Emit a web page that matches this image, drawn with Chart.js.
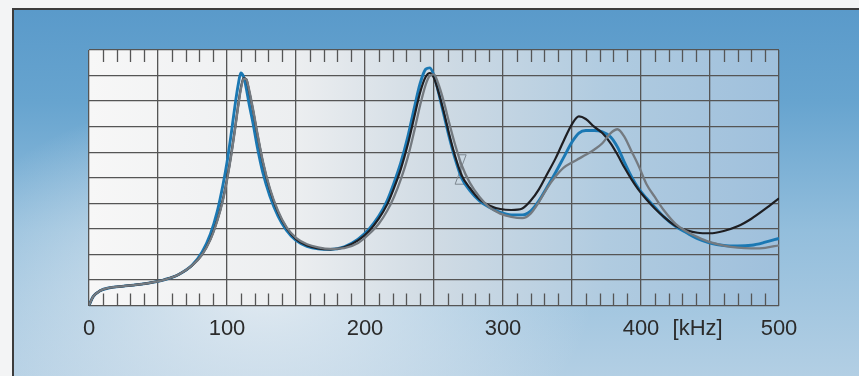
<!DOCTYPE html>
<html>
<head>
<meta charset="utf-8">
<script src="https://cdn.jsdelivr.net/npm/chart.js@4.4.1/dist/chart.umd.min.js"></script>
<style>
  html, body { margin: 0; padding: 0; }
  body { width: 859px; height: 376px; position: relative; overflow: hidden; background: #f3f4f5; }
  #panel {
    position: absolute; left: 12px; top: 8px; width: 847px; height: 368px;
    border-left: 2px solid #3c3c3c; border-top: 2px solid #3c3c3c;
    background:
      radial-gradient(ellipse 330px 200px at 250px 280px, rgba(236,240,244,0.85), rgba(236,240,244,0)),
      linear-gradient(to bottom, #5a9aca 0%, #67a4cf 25%, #93bedc 60%, #b3cfe4 100%);
  }
  #wrap { position: absolute; left: 0; top: 0; width: 859px; height: 376px; }
</style>
</head>
<body>
<div id="panel"></div>
<div id="wrap"><canvas id="chart" width="859" height="376"></canvas></div>
<script>
// frequency in kHz, shared by all three traces
const freq = [0,3,8,15,25,35,45,55,65,75,
  82,88,93,97,100,103,106,108,110,112,
  114,116,119,122,126,131,137,143,150,158,
  166,175,185,195,203,210,216,221,226,231,
  236,240,244,247,250,253,257,261,265,270,
  276,283,290,298,306,314,320,326,332,338,
  344,350,355,360,366,372,378,383,388,393,
  398,404,410,417,425,433,441,450,460,470,
  480,490,500];

const blueTrace = [0,0.35,0.58,0.7,0.76,0.82,0.9,1.02,1.22,1.6,
  2.1,2.8,3.7,4.7,5.6,6.7,7.9,8.6,9.1,8.95,
  8.5,7.9,7.1,6.2,5.2,4.3,3.5,2.95,2.55,2.32,
  2.22,2.2,2.3,2.6,3.0,3.5,4.1,4.8,5.6,6.6,
  7.8,8.7,9.25,9.3,9.0,8.4,7.5,6.6,5.8,5.0,
  4.5,4.1,3.85,3.65,3.55,3.55,3.7,4.1,4.64,5.2,
  5.8,6.4,6.75,6.85,6.85,6.8,6.6,6.2,5.6,5.05,
  4.6,4.2,3.85,3.45,3.1,2.85,2.62,2.45,2.35,2.33,
  2.36,2.48,2.63];

const blackTrace = [0,0.35,0.58,0.7,0.76,0.82,0.9,1.02,1.22,1.58,
  2.0,2.6,3.35,4.15,4.95,5.9,7.0,7.8,8.5,8.9,
  8.85,8.4,7.6,6.7,5.6,4.55,3.65,3.05,2.6,2.35,
  2.24,2.2,2.28,2.55,2.92,3.4,3.95,4.6,5.35,6.3,
  7.45,8.35,8.95,9.1,8.9,8.4,7.6,6.7,5.9,5.1,
  4.6,4.15,3.92,3.78,3.74,3.8,4.1,4.55,5.15,5.75,
  6.45,7.1,7.4,7.3,7.0,6.75,6.35,5.9,5.4,4.95,
  4.55,4.15,3.8,3.45,3.12,2.95,2.85,2.83,2.92,3.1,
  3.4,3.78,4.2];

const grayTrace = [0,0.35,0.58,0.7,0.76,0.82,0.9,1.02,1.22,1.58,
  2.0,2.58,3.32,4.1,4.9,5.85,6.95,7.75,8.45,8.88,
  8.85,8.45,7.65,6.75,5.65,4.6,3.7,3.08,2.65,2.4,
  2.28,2.22,2.25,2.45,2.8,3.2,3.7,4.25,4.95,5.8,
  6.9,7.85,8.65,9.0,9.05,8.7,8.0,7.15,6.35,5.5,
  4.8,4.25,3.85,3.6,3.47,3.42,3.6,4.05,4.6,5.05,
  5.4,5.6,5.75,5.9,6.1,6.35,6.75,6.9,6.6,6.05,
  5.5,4.75,4.25,3.7,3.2,2.9,2.68,2.48,2.35,2.27,
  2.24,2.26,2.36];

const xLabels = [0, 100, 200, 300, 400, 500];
const unitLabel = '[kHz]';
const unitAt = 441;
// small hourglass cursor near 270 kHz (kHz, level)
const markerX = [267.5, 273.3, 265.3, 271.7];
const markerY = [5.9, 5.9, 4.75, 4.75];

const pts = arr => freq.map((f, i) => ({ x: f, y: arr[i] }));
const labelFont = '"Liberation Sans", Arial, sans-serif';

const plotBg = {
  id: 'plotBg',
  beforeDraw(chart) {
    const { ctx, chartArea: a } = chart;
    const g = ctx.createLinearGradient(a.left, 0, a.right, 0);
    g.addColorStop(0, '#f7f7f7');
    g.addColorStop(0.3, '#eceef0');
    g.addColorStop(0.5, '#d0dbe4');
    g.addColorStop(0.75, '#b0cbe0');
    g.addColorStop(1, '#9fc0dc');
    ctx.save();
    ctx.fillStyle = g;
    ctx.fillRect(a.left, a.top, a.right - a.left, a.bottom - a.top);
    ctx.restore();
  },
  beforeDatasetsDraw(chart) {
    const { ctx, chartArea: a, scales: { x, y } } = chart;
    ctx.save();
    ctx.strokeStyle = '#555';
    ctx.lineWidth = 1.3;
    ctx.beginPath();
    for (let f = 10; f < 500; f += 10) {
      if (f % 50 === 0) continue;
      const px = Math.round(x.getPixelForValue(f)) + 0.5;
      ctx.moveTo(px, a.top);
      ctx.lineTo(px, a.top + 12);
      ctx.moveTo(px, a.bottom);
      ctx.lineTo(px, a.bottom - 12);
    }
    ctx.stroke();
    // hourglass cursor
    ctx.strokeStyle = '#7d8790';
    ctx.lineWidth = 1;
    ctx.beginPath();
    ctx.moveTo(x.getPixelForValue(markerX[0]), y.getPixelForValue(markerY[0]));
    ctx.lineTo(x.getPixelForValue(markerX[1]), y.getPixelForValue(markerY[1]));
    ctx.lineTo(x.getPixelForValue(markerX[2]), y.getPixelForValue(markerY[2]));
    ctx.lineTo(x.getPixelForValue(markerX[3]), y.getPixelForValue(markerY[3]));
    ctx.closePath();
    ctx.stroke();
    ctx.restore();
  },
  afterDraw(chart) {
    const { ctx, chartArea: a, scales: { x } } = chart;
    ctx.save();
    ctx.font = '22px ' + labelFont;
    ctx.fillStyle = '#2b2b2b';
    ctx.textAlign = 'center';
    ctx.textBaseline = 'middle';
    ctx.fillText(unitLabel, x.getPixelForValue(unitAt), a.bottom + 23);
    ctx.restore();
  }
};

new Chart(document.getElementById('chart'), {
  type: 'line',
  data: {
    datasets: [
      { data: pts(grayTrace), borderColor: '#747a80', borderWidth: 2.3 },
      { data: pts(blackTrace), borderColor: '#1e1e22', borderWidth: 2.2 },
      { data: pts(blueTrace), borderColor: '#1b78b3', borderWidth: 2.9 }
    ]
  },
  options: {
    responsive: false,
    animation: false,
    layout: { padding: { left: 89, right: 80, top: 50, bottom: 24 } },
    elements: { point: { radius: 0 }, line: { cubicInterpolationMode: 'monotone' } },
    plugins: { legend: { display: false }, tooltip: { enabled: false } },
    scales: {
      x: {
        type: 'linear', min: 0, max: 500,
        grid: { color: '#555', lineWidth: 1.3, drawTicks: false },
        border: { display: false },
        ticks: {
          stepSize: 50, padding: 10, color: '#2b2b2b',
          font: { family: labelFont, size: 22 },
          callback: v => xLabels.includes(v) ? String(v) : ''
        }
      },
      y: {
        min: 0, max: 10,
        grid: { color: '#555', lineWidth: 1.3, drawTicks: false },
        border: { display: false },
        ticks: { display: false, stepSize: 1 }
      }
    }
  },
  plugins: [plotBg]
});
</script>
</body>
</html>
